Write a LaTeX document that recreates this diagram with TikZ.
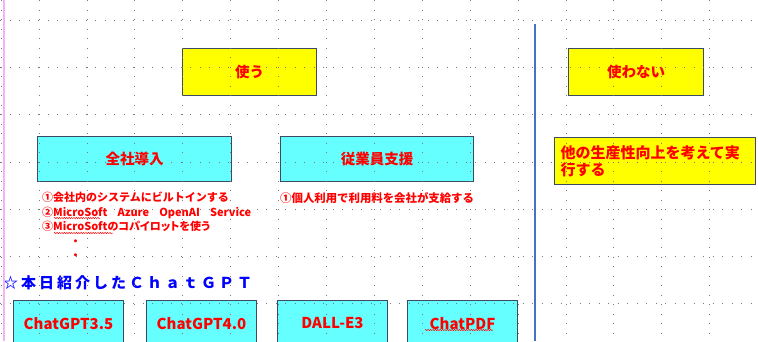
\documentclass[tikz,border=0pt]{standalone}
\usepackage{fontspec}
\setmainfont{Noto Sans CJK JP}
\usepackage{tikz}
\usetikzlibrary{positioning,decorations.pathmorphing}

\definecolor{boxline}{HTML}{3C4A64}
\definecolor{usefill}{HTML}{FFFF00}
\definecolor{cyanfill}{HTML}{66FFFF}
\definecolor{txtred}{HTML}{FF0000}
\definecolor{headblue}{HTML}{0000FF}
\definecolor{divline}{HTML}{4472C4}
\definecolor{gridgray}{HTML}{7A7A7A}
\definecolor{edgepink}{HTML}{F4B4F4}

\begin{document}
\begin{tikzpicture}[x=1pt, y=-1pt, node distance=20pt,
    box/.style={draw=boxline, line width=1pt, anchor=north west, inner sep=0pt, text=txtred,
        font=\bfseries\fontsize{14.5}{17}\selectfont},
    yes/.style={box, fill=usefill, minimum width=134pt, minimum height=47pt},
    team/.style={box, fill=cyanfill, minimum width=194pt, minimum height=45pt},
    tool/.style={box, fill=cyanfill, minimum width=110pt, minimum height=46pt,
        font=\bfseries\fontsize{15}{17}\selectfont},
    note/.style={inner sep=0pt, align=left, text=txtred, font=\bfseries\fontsize{11}{14.5}\selectfont},
    griddot/.style={gridgray, line width=0.8pt, dash pattern=on 0.8pt off 8.7pt},
    typo/.style={txtred, line width=0.5pt, decorate, decoration={snake, amplitude=0.6pt, segment length=2.4pt}}]
    \useasboundingbox (0,0) rectangle (758,341);
    \clip (0,0) rectangle (758,341);

    % use / do not use
    \node[yes] (use) at (182,48) {使う};
    \node[yes, minimum width=135pt] (nouse) at (568,48) {使わない};

    % ways of using
    \node[team] (company) at (37,136) {全社導入};
    \node[team, minimum width=193pt] (staff) [right=48pt of company] {従業員支援};
    \node[yes, minimum width=201pt, inner xsep=6pt, text width=189pt, align=left,
        font=\bfseries\fontsize{15}{17}\selectfont] (other) at (554,137) {他の生産性向上を考えて実\\行する};

    \node[note] (plan) [below=10pt of company.south west, anchor=north west, xshift=5pt]
        {①会社内のシステムにビルトインする\\
         \makebox[209pt][s]{②MicroSoft Azure OpenAI Service}\\
         {\addfontfeature{RawFeature=+palt}③MicroSoftのコパイロットを使う}\\
         \hspace{28pt}・\\\hspace{28pt}・};
    \node[note, font=\bfseries\fontsize{11.4}{14.5}\selectfont] (personal) [below=10pt of staff.south west, anchor=north west]
        {①個人利用で利用料を会社が支給する};

    % ChatGPT tools
    \node[anchor=west, inner sep=0pt, text=headblue,
        font=\bfseries\fontsize{15}{17}\selectfont\addfontfeature{LetterSpace=20}] (today) at (3,283) {☆本日紹介したＣｈａｔＧＰＴ};
    \node[tool] (gpt35) at (13,300) {ChatGPT3.5};
    \node[tool] (gpt40) [right=22pt of gpt35] {ChatGPT4.0};
    \node[tool] (dalle) [right=20pt of gpt40] {DALL-E3};
    \node[tool] (chatpdf) [right=19pt of dalle] {ChatPDF};

    % divider and sheet grid
    \coordinate (divtop) at (535,24);
    \coordinate (divend) at (535,341);
    \draw[divline, line width=2pt] (divtop) -- (divend);
    \foreach \gx in {0,...,14}
        \draw[griddot] ({39+47.9*\gx},0) -- ({39+47.9*\gx},341);
    \foreach \gy in {0,...,6}
        \draw[griddot] (0,{20+47.3*\gy}) -- (758,{20+47.3*\gy});
    \draw[griddot] (1,0) -- (1,341);
    \draw[edgepink, line width=1.5pt] (4,0) -- (4,341);

    % spell check marks
    \draw[typo] (54,218) -- (100,218);
    \draw[typo] (54,233) -- (113,233);
    \draw[typo] (425,330) -- (493,330);
\end{tikzpicture}
\end{document}
